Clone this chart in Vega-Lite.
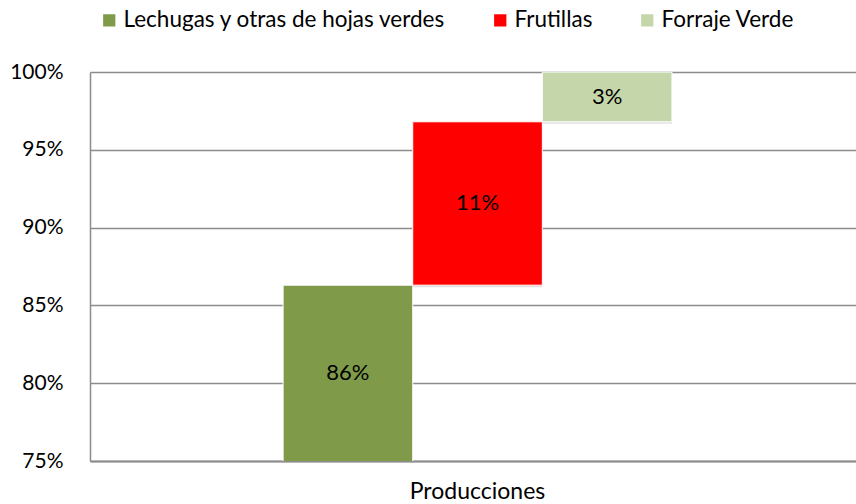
{
  "$schema": "https://vega.github.io/schema/vega-lite/v6.json",
  "width": 766,
  "height": 389,
  "autosize": {"type": "none"},
  "padding": {"left": 90, "top": 72, "right": 0, "bottom": 43},
  "background": "white",
  "config": {"font": "Lato", "view": {"stroke": null}},
  "data": {
    "values": [
      {"categoria": "Producciones", "serie": "Lechugas y otras de hojas verdes", "inicio": 0, "fin": 0.863, "valor": 0.8625},
      {"categoria": "Producciones", "serie": "Frutillas", "inicio": 0.863, "fin": 0.968, "valor": 0.106},
      {"categoria": "Producciones", "serie": "Forraje Verde", "inicio": 0.968, "fin": 1.0, "valor": 0.0315}
    ]
  },
  "encoding": {
    "x": {
      "field": "categoria",
      "type": "nominal",
      "scale": {"paddingInner": 0, "paddingOuter": 0.485, "align": 0.512},
      "axis": {
        "title": null,
        "labelAngle": 0,
        "ticks": false,
        "grid": false,
        "labelFontSize": 23,
        "labelPadding": 19,
        "labelColor": "black",
        "domainColor": "#8C8C8C",
        "domainWidth": 2
      }
    },
    "xOffset": {
      "field": "serie",
      "sort": ["Lechugas y otras de hojas verdes", "Frutillas", "Forraje Verde"],
      "scale": {"paddingInner": 0, "paddingOuter": 0}
    }
  },
  "layer": [
    {
      "mark": {"type": "bar", "clip": true, "fill": "#000000", "opacity": 0.12, "xOffset": 2, "yOffset": 2},
      "encoding": {
        "y": {"field": "inicio", "type": "quantitative"},
        "y2": {"field": "fin"}
      }
    },
    {
      "mark": {"type": "bar", "clip": true, "stroke": "white", "strokeWidth": 1},
      "encoding": {
        "y": {
          "field": "inicio",
          "type": "quantitative",
          "scale": {"domain": [0.75, 1], "nice": false, "zero": false},
          "axis": {
            "title": null,
            "values": [0.75, 0.8, 0.85, 0.9, 0.95, 1.0],
            "format": ".0%",
            "grid": true,
            "gridColor": "#8C8C8C",
            "gridWidth": 1.5,
            "ticks": false,
            "labelPadding": 27,
            "labelFontSize": 21,
            "labelColor": "black",
            "domainColor": "#8C8C8C",
            "domainWidth": 1.5
          }
        },
        "y2": {"field": "fin"},
        "color": {
          "field": "serie",
          "type": "nominal",
          "scale": {
            "domain": ["Lechugas y otras de hojas verdes", "Frutillas", "Forraje Verde"],
            "range": ["#7F9B4A", "#FF0000", "#C4D6AA"]
          },
          "legend": {
            "title": null,
            "orient": "none",
            "legendX": 8,
            "legendY": -63,
            "direction": "horizontal",
            "symbolType": "square",
            "symbolSize": 150,
            "symbolStrokeWidth": 0,
            "labelFontSize": 22.5,
            "labelLimit": 0,
            "labelColor": "black",
            "labelOffset": 3,
            "columnPadding": 43
          }
        }
      }
    },
    {
      "transform": [{"calculate": "(max(datum.inicio, 0.75) + datum.fin) / 2", "as": "medio"}],
      "mark": {"type": "text", "fontSize": 22, "color": "black"},
      "encoding": {
        "y": {"field": "medio", "type": "quantitative", "title": null},
        "text": {"field": "valor", "format": ".0%"}
      }
    }
  ]
}
